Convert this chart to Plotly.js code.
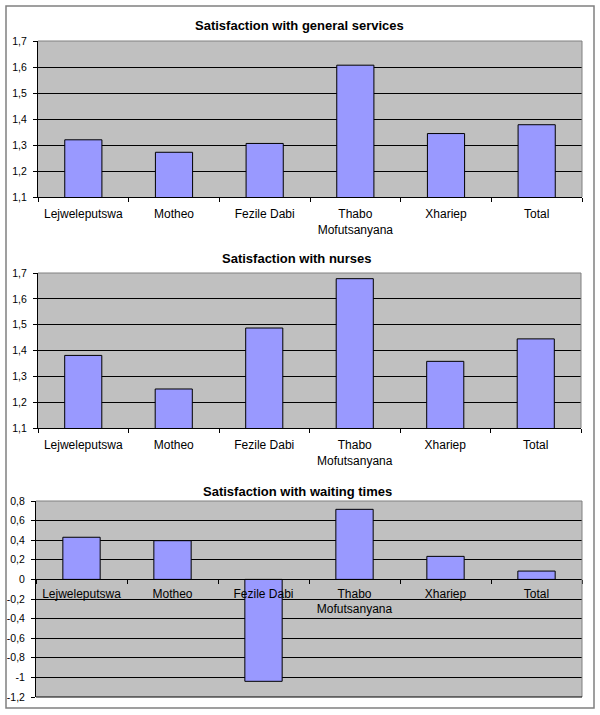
<!DOCTYPE html>
<html>
<head>
<meta charset="utf-8">
<script src="https://cdn.plot.ly/plotly-3.0.1.min.js"></script>
<style>html,body{margin:0;padding:0;background:#fff;}#chart{width:600px;height:715px;}</style>
</head>
<body>
<div id="chart"></div>
<script>
const categories = ["Lejweleputswa", "Motheo", "Fezile Dabi", "Thabo<br>Mofutsanyana", "Xhariep", "Total"];
const generalServices = [1.32, 1.272, 1.306, 1.607, 1.344, 1.378];
const nurses = [1.381, 1.251, 1.487, 1.678, 1.358, 1.445];
const waitingTimes = [0.43, 0.395, -1.04, 0.715, 0.235, 0.085];
const titles = ["Satisfaction with general services", "Satisfaction with nurses", "Satisfaction with waiting times"];
const waitTickVals = [-1.2, -1, -0.8, -0.6, -0.4, -0.2, 0, 0.2, 0.4, 0.6, 0.8];
const waitTickText = ["-1,2", "-1", "-0,8", "-0,6", "-0,4", "-0,2", "0", "0,2", "0,4", "0,6", "0,8"];

const W = 600, H = 715;
const FONT = "Arial, 'Liberation Sans', sans-serif";
const px = v => v / W;
const py = v => 1 - v / H;

const barStyle = {color: "#9999FF", line: {color: "#000000", width: 1}};
const traces = [
  {type: "bar", x: categories, y: generalServices, xaxis: "x", yaxis: "y", marker: barStyle, width: 0.41, hoverinfo: "none"},
  {type: "bar", x: categories, y: nurses, xaxis: "x2", yaxis: "y2", marker: barStyle, width: 0.41, hoverinfo: "none"},
  {type: "bar", x: categories, y: waitingTimes, xaxis: "x3", yaxis: "y3", marker: barStyle, width: 0.41, hoverinfo: "none"}
];

const y3dom = [py(697), py(501)];
const zeroPos = y3dom[0] + (y3dom[1] - y3dom[0]) * (0 - (-1.2)) / (0.8 - (-1.2));

function xAx(dom, anchor, extra) {
  return Object.assign({
    domain: dom, anchor: anchor, type: "category",
    showline: true, linecolor: "#000", linewidth: 1,
    ticks: "outside", ticklen: 4, tickcolor: "#000", tickson: "boundaries",
    showgrid: false, zeroline: false,
    tickfont: {family: FONT, size: 12, color: "#000"},
    ticklabelstandoff: 6,
    fixedrange: true
  }, extra || {});
}
function yAx(dom, anchor, range, extra) {
  return Object.assign({
    domain: dom, anchor: anchor, range: range,
    showline: true, linecolor: "#000", linewidth: 1,
    ticks: "outside", ticklen: 4, tickcolor: "#000",
    showgrid: true, gridcolor: "#000", gridwidth: 1, zeroline: false,
    tickfont: {family: FONT, size: 10.5, color: "#000"},
    ticklabelstandoff: 4,
    fixedrange: true
  }, extra || {});
}

const layout = {
  width: W, height: H,
  margin: {l: 0, r: 0, t: 0, b: 0},
  paper_bgcolor: "#ffffff",
  plot_bgcolor: "#C0C0C0",
  separators: ",.",
  showlegend: false,
  bargap: 0.59,
  xaxis: xAx([px(38), px(582)], "y"),
  yaxis: yAx([py(197), py(41)], "x", [1.1, 1.7], {dtick: 0.1, tick0: 1.1}),
  xaxis2: xAx([px(38), px(581)], "y2"),
  yaxis2: yAx([py(428), py(273)], "x2", [1.1, 1.7], {dtick: 0.1, tick0: 1.1}),
  xaxis3: xAx([px(36), px(582)], "free", {position: zeroPos, ticklabelstandoff: 3}),
  yaxis3: yAx(y3dom, "x3", [-1.2, 0.8], {tickvals: waitTickVals, ticktext: waitTickText}),
  annotations: [
    {text: "<b>" + titles[0] + "</b>", xref: "paper", yref: "paper", x: px(299), y: py(25), showarrow: false, xanchor: "center", yanchor: "middle", font: {family: FONT, size: 13, color: "#000"}},
    {text: "<b>" + titles[1] + "</b>", xref: "paper", yref: "paper", x: px(297), y: py(259), showarrow: false, xanchor: "center", yanchor: "middle", font: {family: FONT, size: 13, color: "#000"}},
    {text: "<b>" + titles[2] + "</b>", xref: "paper", yref: "paper", x: px(297), y: py(491), showarrow: false, xanchor: "center", yanchor: "middle", font: {family: FONT, size: 13, color: "#000"}}
  ],
  shapes: [
    {type: "rect", xref: "paper", yref: "paper", x0: px(6), x1: px(594), y0: py(708), y1: py(6), line: {color: "#808080", width: 1.5}},
    {type: "line", xref: "x domain", yref: "y domain", x0: 0, x1: 1, y0: 1, y1: 1, line: {color: "#808080", width: 1}},
    {type: "line", xref: "x domain", yref: "y domain", x0: 1, x1: 1, y0: 0, y1: 1, line: {color: "#808080", width: 1}},
    {type: "line", xref: "x2 domain", yref: "y2 domain", x0: 0, x1: 1, y0: 1, y1: 1, line: {color: "#808080", width: 1}},
    {type: "line", xref: "x2 domain", yref: "y2 domain", x0: 1, x1: 1, y0: 0, y1: 1, line: {color: "#808080", width: 1}},
    {type: "line", xref: "x3 domain", yref: "y3 domain", x0: 0, x1: 1, y0: 1, y1: 1, line: {color: "#808080", width: 1}},
    {type: "line", xref: "x3 domain", yref: "y3 domain", x0: 1, x1: 1, y0: 0, y1: 1, line: {color: "#808080", width: 1}},
    {type: "line", xref: "x3 domain", yref: "y3 domain", x0: 0, x1: 1, y0: 0, y1: 0, line: {color: "#000", width: 1}}
  ]
};

Plotly.newPlot("chart", traces, layout, {displayModeBar: false, staticPlot: true});
</script>
</body>
</html>
